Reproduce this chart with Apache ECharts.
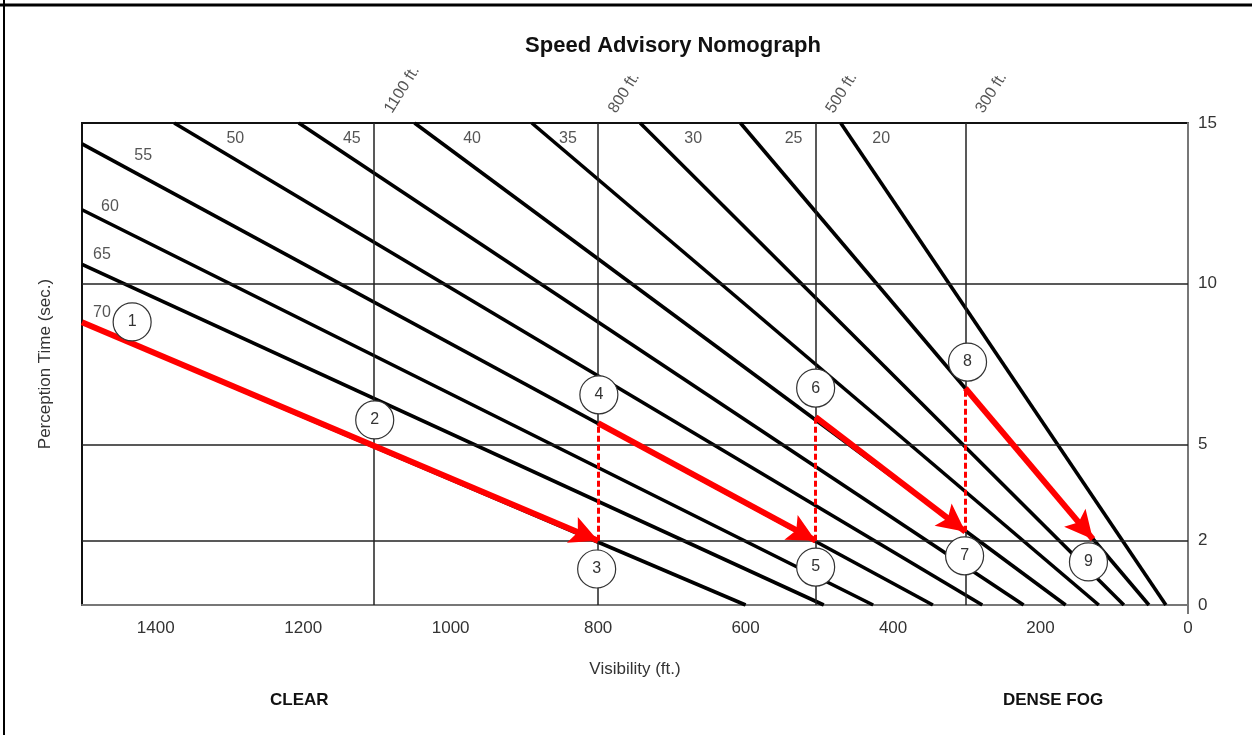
<!DOCTYPE html>
<html>
<head>
<meta charset="utf-8">
<title>Speed Advisory Nomograph</title>
<script src="https://cdn.jsdelivr.net/npm/echarts@6/dist/echarts.min.js"></script>
<style>
	html, body { margin: 0; padding: 0; background: #fff; }
	#chart { width: 1252px; height: 735px; }
</style>
</head>
<body>
<div id="chart"></div>
<script>
	// speed lines (mph): start / end point as [visibility ft, perception time s]
	const speeds = [70, 65, 60, 55, 50, 45, 40, 35, 30, 25, 20];
	const lineStart = [[1500, 8.8], [1500, 10.6], [1500, 12.3], [1500, 14.35], [1375, 15], [1206, 15], [1049, 15], [890, 15], [743, 15], [607, 15], [471, 15]];
	const lineEnd = [[600, 0], [494, 0], [427, 0], [346, 0], [279, 0], [223, 0], [166, 0], [121, 0], [87, 0], [53, 0], [30, 0]];
	const speedLabelAt = [[1473, 9.1], [1473, 10.9], [1462, 12.4], [1417, 14.0], [1292, 14.5], [1134, 14.5], [971, 14.5], [841, 14.5], [671, 14.5], [535, 14.5], [416, 14.5]];

	// reference grid
	const xTicks = [0, 200, 400, 600, 800, 1000, 1200, 1400];
	const yTicks = [0, 2, 5, 10, 15];
	const hLines = [2, 5, 10];
	const vLines = [1104, 800, 505, 302];
	const vLineNames = ['1100 ft.', '800 ft.', '500 ft.', '300 ft.'];

	// worked example: red arrows and dashed drops
	const arrowFrom = [[1500, 8.8], [800, 5.66], [505, 5.85], [302, 6.75]];
	const arrowTo = [[800, 2], [505, 2], [302, 2.28], [129, 2.05]];
	const dropX = [800, 505, 302];
	const dropLow = [2, 2, 2.28];
	const dropHigh = [5.66, 5.85, 6.75];

	// numbered circles
	const circleNum = [1, 2, 3, 4, 5, 6, 7, 8, 9];
	const circleX = [1432, 1103, 802, 799, 505, 505, 303, 299, 135];
	const circleY = [8.81, 5.76, 1.12, 6.54, 1.18, 6.75, 1.53, 7.56, 1.34];

	const chart = echarts.init(document.getElementById('chart'));

	// grid line segments, the vertical ones leave room for the red drops
	let gridSegs = hLines.map(t => [{ coord: [1500, t] }, { coord: [0, t] }]);
	vLines.forEach((x, i) => {
		let k = dropX.indexOf(x);
		if (k < 0) {
			gridSegs.push([{ coord: [x, 15] }, { coord: [x, 0] }]);
		} else {
			gridSegs.push([{ coord: [x, 15] }, { coord: [x, dropHigh[k]] }]);
			gridSegs.push([{ coord: [x, dropLow[k]] }, { coord: [x, 0] }]);
		}
	});

	let series = [{
		name: 'grid',
		type: 'line',
		data: [],
		z: 1,
		markLine: {
			silent: true,
			symbol: 'none',
			label: { show: false },
			lineStyle: { color: '#222', width: 1.5, type: 'solid' },
			data: gridSegs
		}
	}];

	speeds.forEach((s, i) => {
		series.push({
			name: s + ' mph',
			type: 'line',
			data: [lineStart[i], lineEnd[i]],
			symbol: 'none',
			z: 2,
			lineStyle: { color: '#000', width: 3.6 }
		});
	});

	series.push({
		name: 'drops',
		type: 'line',
		data: [],
		z: 3,
		markLine: {
			silent: true,
			symbol: 'none',
			label: { show: false },
			lineStyle: { color: '#f00', width: 3, type: [6, 3] },
			data: dropX.map((x, i) => [{ coord: [x, dropLow[i]] }, { coord: [x, dropHigh[i]] }])
		}
	});

	series.push({
		name: 'arrows',
		type: 'line',
		data: [],
		z: 4,
		markLine: {
			silent: true,
			symbol: ['none', 'path://M12,0 L24,28 L12,22 L0,28 Z'],
			symbolSize: 28,
			symbolOffset: [[0, 0], [0, 14]],
			label: { show: false },
			lineStyle: { color: '#f00', width: 6, type: 'solid' },
			itemStyle: { color: '#f00' },
			data: arrowFrom.map((p, i) => [{ coord: p }, { coord: arrowTo[i] }])
		}
	});

	series.push({
		name: 'speedLabels',
		type: 'scatter',
		symbolSize: 0,
		z: 5,
		data: speeds.map((s, i) => ({ value: speedLabelAt[i], name: String(s) })),
		label: {
			show: true,
			position: 'inside',
			formatter: p => p.name,
			color: '#2a2a2a',
			fontSize: 16,
			fontFamily: 'Liberation Sans, Arial'
		}
	});

	series.push({
		name: 'distLabels',
		type: 'scatter',
		symbolSize: 0,
		z: 5,
		data: vLines.map((x, i) => ({ value: [x, 15], name: vLineNames[i] })),
		label: {
			show: true,
			position: [21, -7],
			align: 'left',
			verticalAlign: 'bottom',
			rotate: 58,
			formatter: p => p.name,
			color: '#2a2a2a',
			fontSize: 16,
			fontFamily: 'Liberation Sans, Arial'
		}
	});

	series.push({
		name: 'steps',
		type: 'scatter',
		symbol: 'circle',
		symbolSize: 38,
		z: 6,
		data: circleNum.map((n, i) => ({ value: [circleX[i], circleY[i]], name: String(n) })),
		itemStyle: { color: '#fff', borderColor: '#333', borderWidth: 1.2, opacity: 1 },
		label: {
			show: true,
			position: 'inside',
			formatter: p => p.name,
			color: '#333',
			fontSize: 16,
			fontFamily: 'Liberation Sans, Arial'
		}
	});

	let option = {
		animation: false,
		backgroundColor: '#fff',
		title: {
			text: 'Speed Advisory Nomograph',
			left: 668,
			top: 30,
			textAlign: 'center',
			textStyle: {
				color: '#111',
				fontSize: 22,
				fontWeight: 'bold',
				fontFamily: 'Liberation Sans, Arial'
			}
		},
		grid: {
			left: 82,
			right: 64,
			top: 123,
			bottom: 130,
			show: true,
			borderColor: '#111',
			borderWidth: 2
		},
		xAxis: {
			type: 'value',
			min: 0,
			max: 1500,
			interval: 200,
			inverse: true,
			name: 'Visibility (ft.)',
			nameLocation: 'middle',
			nameGap: 56,
			nameTextStyle: { color: '#333', fontSize: 17, fontFamily: 'Liberation Sans, Arial' },
			axisLine: { show: true, lineStyle: { color: '#777', width: 2 } },
			axisTick: { show: false },
			splitLine: { show: false },
			axisLabel: {
				color: '#333',
				fontSize: 17,
				margin: 15,
				fontFamily: 'Liberation Sans, Arial',
				showMaxLabel: false,
				formatter: v => xTicks.includes(v) ? String(v) : ''
			}
		},
		yAxis: [{
			type: 'value',
			position: 'right',
			min: 0,
			max: 15,
			interval: 1,
			axisLine: { show: true, lineStyle: { color: '#777', width: 2 } },
			axisTick: { show: false },
			splitLine: { show: false },
			axisLabel: {
				color: '#333',
				fontSize: 17,
				margin: 10,
				fontFamily: 'Liberation Sans, Arial',
				formatter: v => yTicks.includes(v) ? String(v) : ''
			}
		}, {
			type: 'value',
			position: 'left',
			min: 0,
			max: 15,
			name: 'Perception Time (sec.)',
			nameLocation: 'middle',
			nameRotate: 90,
			nameGap: 28,
			nameTextStyle: { color: '#333', fontSize: 17, fontFamily: 'Liberation Sans, Arial' },
			axisLine: { show: false },
			axisTick: { show: false },
			axisLabel: { show: false },
			splitLine: { show: false }
		}],
		graphic: [
			{ type: 'line', shape: { x1: 0, y1: 5, x2: 1252, y2: 5 }, style: { stroke: '#000', lineWidth: 3 } },
			{ type: 'line', shape: { x1: 4, y1: 0, x2: 4, y2: 735 }, style: { stroke: '#000', lineWidth: 2 } },
			{ type: 'line', shape: { x1: 1188, y1: 605, x2: 1188, y2: 614 }, style: { stroke: '#777', lineWidth: 2 } },
			{ type: 'text', left: 270, top: 692, style: { text: 'CLEAR', fill: '#111', font: 'bold 17px "Liberation Sans", Arial' } },
			{ type: 'text', left: 1003, top: 692, style: { text: 'DENSE FOG', fill: '#111', font: 'bold 17px "Liberation Sans", Arial' } }
		],
		series: series
	};
	chart.setOption(option);
</script>
</body>
</html>
